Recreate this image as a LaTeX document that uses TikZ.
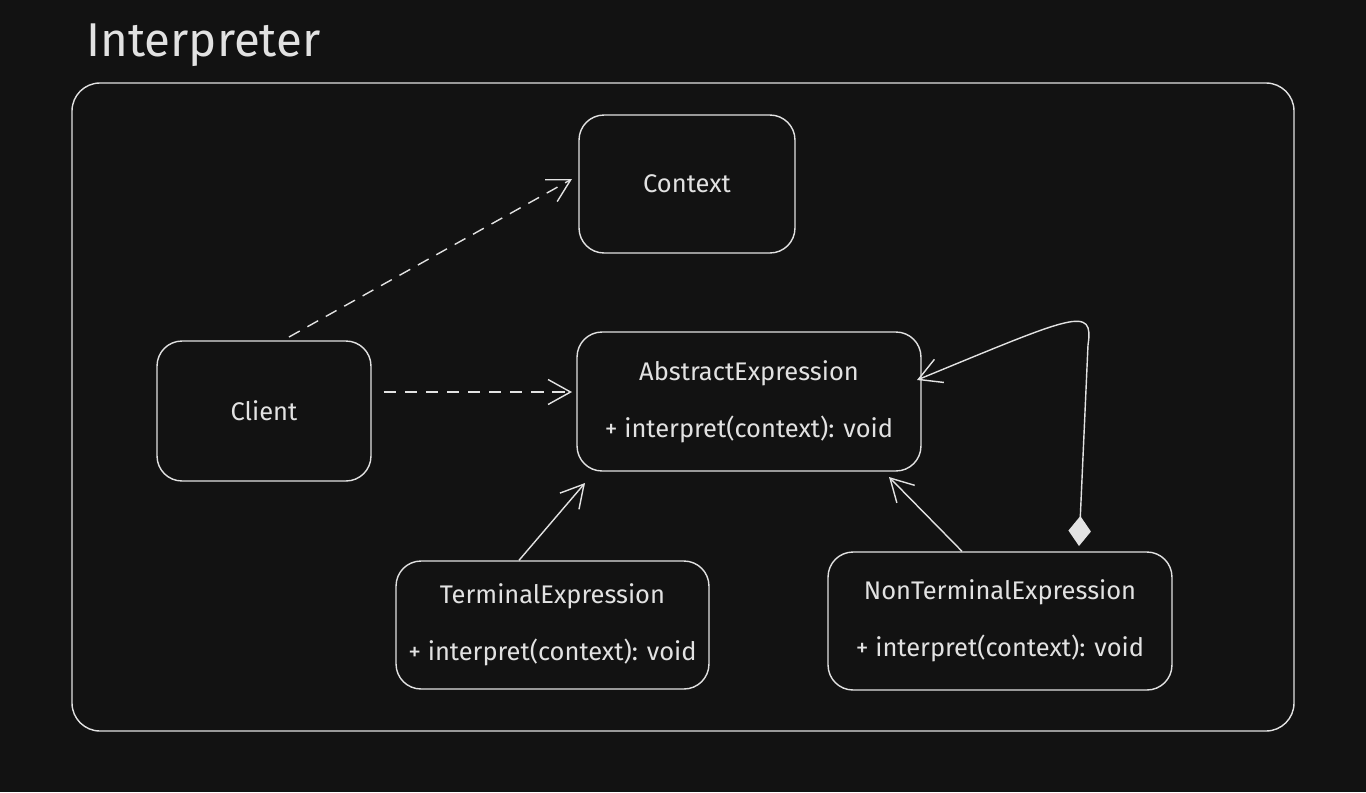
\documentclass[tikz,border=0pt]{standalone}
\usepackage{fontspec}
\setmainfont{Fira Sans}
\usetikzlibrary{positioning,arrows.meta}

\definecolor{canvas}{HTML}{121212}
\definecolor{ink}{HTML}{E2E2E2}

\begin{document}
\begin{tikzpicture}[x=0.02cm,y=-0.02cm,
			line width=0.8pt,
			every node/.style={text=ink,font=\fontsize{14.5}{17}\selectfont},
			box/.style={
				draw=ink,
				rounded corners=0.5cm,
				align=center
			},
			dep/.style={draw=ink,dashed,dash pattern=on 7pt off 5pt,-{Straight Barb[length=0.45cm,width=0.5cm]}},
			gen/.style={draw=ink,-{Straight Barb[length=0.45cm,width=0.5cm]}},
			aggr/.style={draw=ink,{Diamond[length=0.6cm,width=0.45cm]}-{Straight Barb[length=0.45cm,width=0.5cm]}}]
			
			\useasboundingbox[fill=canvas] (0,0) rectangle (1366,792);
			
			\node (title)[anchor=west,font=\fontsize{27}{32}\selectfont] at (80,45){Interpreter};
			
			\draw[draw=ink,rounded corners=0.56cm] (72,83) rectangle (1294,731);
			
			\node (context)[box,minimum width=4.32cm,minimum height=2.76cm] at (687,184){Context};
			
			\node (client)[box,minimum width=4.28cm,minimum height=2.8cm] at (264,411){Client};
			
			\node (abstract)[box,minimum width=6.88cm,minimum height=2.78cm] at (749,401.5){AbstractExpression\\[0.55cm]+ interpret(context): void};
			
			\node (terminal)[box,minimum width=6.26cm,minimum height=2.56cm] at (552.5,625){TerminalExpression\\[0.55cm]+ interpret(context): void};
			
			\node (nonterminal)[box,minimum width=6.88cm,minimum height=2.76cm] at (1000,621){NonTerminalExpression\\[0.55cm]+ interpret(context): void};
			
			\coordinate (clientout) at (289,337);
			\coordinate (contextin) at (572,179);
			\coordinate (aggstart) at (1079,546);
			\coordinate (aggend) at (917,380);
			
			\draw[dep](clientout)--(contextin);
			
			\draw[dep](client.east|-0,392)++(12,0)--(572,392);
			
			\draw[gen](terminal.north-|519,0)--(585,483);
			
			\draw[gen](nonterminal.north-|962,0)--(889,477);
			
			\draw[aggr](aggstart)--(1088,345) .. controls (1094,305) and (1075,315) .. (aggend);
			
		\end{tikzpicture}
\end{document}
